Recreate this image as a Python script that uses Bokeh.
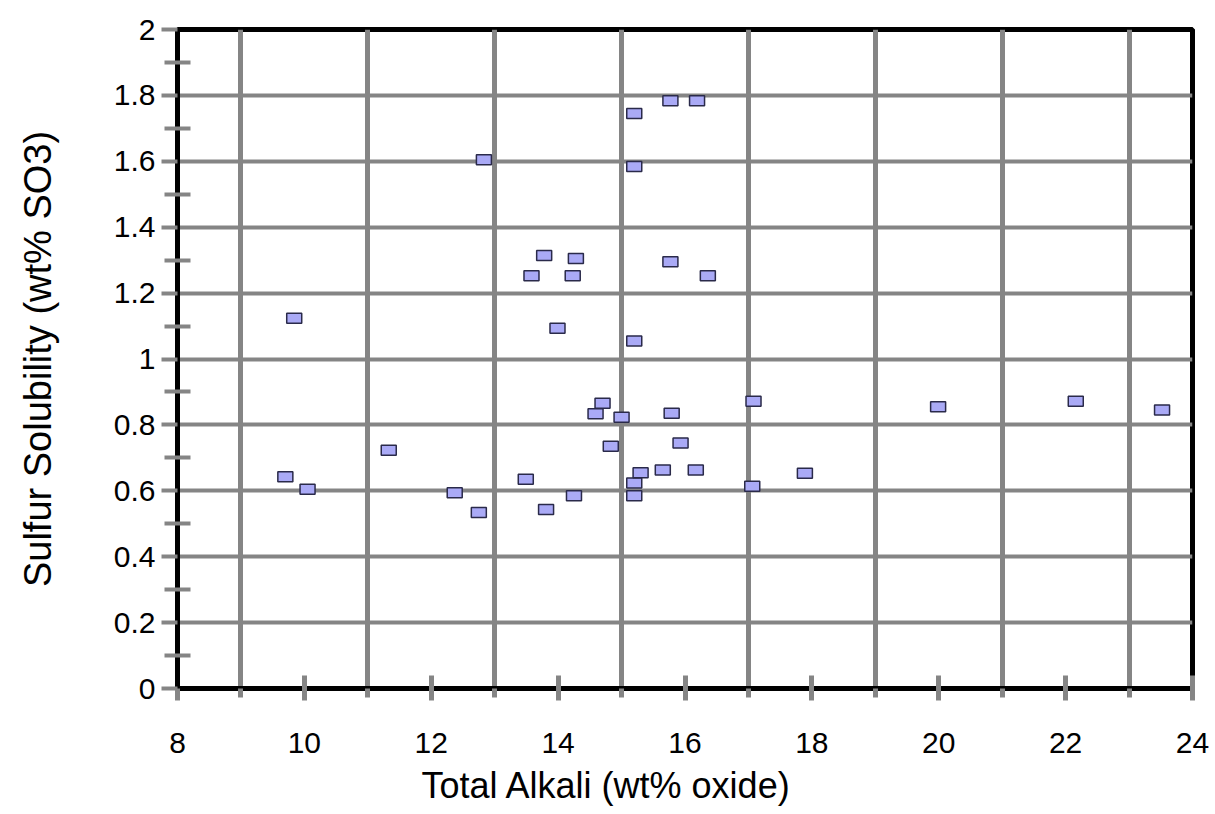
from bokeh.plotting import figure
from bokeh.models import FixedTicker, Range1d, ColumnDataSource, Title
from bokeh.embed import file_html
from bokeh.resources import INLINE

# Data
total_alkali = [9.70, 9.84, 10.05, 11.33, 12.37, 12.75, 12.83, 13.49, 13.58, 13.78,
                13.81, 13.99, 14.23, 14.25, 14.28, 14.59, 14.70, 14.83, 15.00, 15.20,
                15.20, 15.20, 15.20, 15.20, 15.30, 15.65, 15.77, 15.77, 15.79, 15.93,
                16.17, 16.19, 16.36, 17.06, 17.08, 17.89, 19.99, 22.16, 23.52]
sulfur_solubility = [0.643, 1.124, 0.605, 0.723, 0.594, 0.534, 1.605, 0.635, 1.253, 1.314,
                     0.543, 1.093, 1.253, 0.585, 1.305, 0.834, 0.866, 0.735, 0.823, 1.745,
                     1.584, 1.055, 0.624, 0.585, 0.655, 0.663, 1.784, 1.295, 0.835, 0.745,
                     0.663, 1.784, 1.253, 0.614, 0.872, 0.653, 0.855, 0.872, 0.845]

x_ticks = [8, 10, 12, 14, 16, 18, 20, 22, 24]
x_grid = [9, 11, 13, 15, 17, 19, 21, 23]
y_ticks = [0, 0.2, 0.4, 0.6, 0.8, 1.0, 1.2, 1.4, 1.6, 1.8, 2.0]
y_minor = [0.1, 0.3, 0.5, 0.7, 0.9, 1.1, 1.3, 1.5, 1.7, 1.9]
y_labels = {0: "0", 0.2: "0.2", 0.4: "0.4", 0.6: "0.6", 0.8: "0.8", 1.0: "1",
            1.2: "1.2", 1.4: "1.4", 1.6: "1.6", 1.8: "1.8", 2.0: "2"}
x_title = "Total Alkali (wt% oxide)"
y_title = "Sulfur Solubility (wt% SO3)"

FONT = "Liberation Sans"
GRAY = "#858585"

p = figure(width=1215, height=814, output_backend="svg", toolbar_location=None,
           x_range=Range1d(8, 24), y_range=Range1d(0, 2),
           min_border_left=177, min_border_right=23, min_border_top=29, min_border_bottom=126)
p.background_fill_color = "white"
p.border_fill_color = "white"
p.outline_line_color = "black"
p.outline_line_width = 5

# grids
p.xgrid.ticker = FixedTicker(ticks=x_grid)
p.xgrid.grid_line_color = GRAY
p.xgrid.grid_line_width = 5
p.ygrid.ticker = FixedTicker(ticks=y_ticks)
p.ygrid.grid_line_color = GRAY
p.ygrid.grid_line_width = 4

# x axis
xa = p.xaxis[0]
xa.ticker = FixedTicker(ticks=x_ticks, minor_ticks=x_grid)
xa.axis_line_color = "black"
xa.axis_line_width = 5
xa.major_tick_line_color = GRAY
xa.major_tick_line_width = 5
xa.major_tick_in = 13
xa.major_tick_out = 12
xa.minor_tick_line_color = GRAY
xa.minor_tick_line_width = 5
xa.minor_tick_in = 0
xa.minor_tick_out = 9
xa.major_label_text_font = FONT
xa.major_label_text_font_size = "30px"
xa.major_label_text_color = "black"
xa.major_label_standoff = 32

# x title, placed left of centre as in the reference
t = Title(text=x_title, align="left", offset=244, text_font=FONT,
          text_font_size="36px", text_font_style="normal", text_color="black",
          standoff=14)
p.add_layout(t, "below")

# y axis
ya = p.yaxis[0]
ya.ticker = FixedTicker(ticks=y_ticks, minor_ticks=y_minor)
ya.major_label_overrides = y_labels
ya.axis_line_color = "black"
ya.axis_line_width = 5
ya.major_tick_line_color = GRAY
ya.major_tick_line_width = 4
ya.major_tick_in = 0
ya.major_tick_out = 16
ya.minor_tick_line_color = GRAY
ya.minor_tick_line_width = 4
ya.minor_tick_in = 13
ya.minor_tick_out = 13
ya.major_label_text_font = FONT
ya.major_label_text_font_size = "30px"
ya.major_label_text_color = "black"
ya.major_label_standoff = 6
ya.axis_label = y_title
ya.axis_label_text_font = FONT
ya.axis_label_text_font_size = "38px"
ya.axis_label_text_font_style = "normal"
ya.axis_label_text_color = "black"
ya.axis_label_standoff = 52

src = ColumnDataSource(data=dict(x=total_alkali, y=sulfur_solubility))
p.rect(x="x", y="y", width=15, height=10, width_units="screen", height_units="screen",
       source=src, fill_color="#AAAAF6", line_color="#2A2A4A", line_width=1.5)

open("out.html", "w").write(file_html(p, INLINE))
